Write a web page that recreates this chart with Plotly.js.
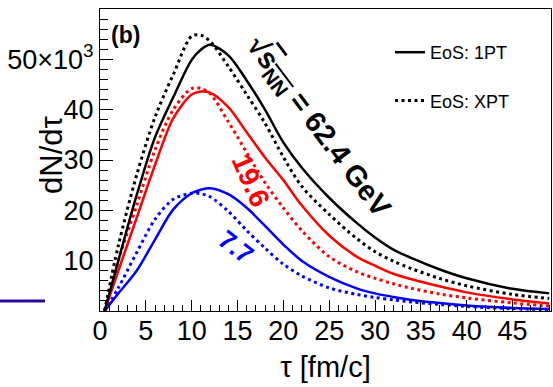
<!DOCTYPE html>
<html>
<head>
<meta charset="utf-8">
<script src="https://cdn.plot.ly/plotly-3.0.1.min.js"></script>
<style>html,body{margin:0;padding:0;background:#fff;}#chart{width:553px;height:387px;}</style>
</head>
<body>
<div id="chart"></div>
<script>
// ---- data (tau in fm/c, dN/dtau in units of 10^3) ----
const tau = [0.5, 2, 4, 6, 8, 10, 11, 12, 14, 16, 18, 20, 22, 25, 28, 30, 32, 34, 37, 40, 45, 49];
const black1PT = [0, 10, 23, 34.5, 42.5, 49.9, 51.9, 52.9, 50.8, 45.8, 40, 33.5, 28.5, 22.5, 17.5, 14.6, 12.2, 10.5, 8.3, 6.5, 4.4, 3.5];
const blackXPT = [0, 13, 27, 38.5, 47, 54.6, 54.8, 53.6, 48.6, 43, 37.3, 30.6, 24.8, 19.2, 14.4, 11.8, 9.9, 8.4, 6.5, 5.0, 3.3, 2.5];
const red1PT   = [0, 8, 18.5, 29, 38.3, 43, 43.6, 43.4, 40.5, 35.5, 30.5, 26, 21, 15, 10.8, 9.0, 7.4, 6.3, 4.9, 3.7, 2.3, 1.5];
const redXPT   = [0, 10, 21, 32, 40, 44.2, 44.2, 43.2, 37.6, 31.5, 25.5, 20.5, 16, 10.8, 7.8, 6.5, 5.4, 4.5, 3.4, 2.6, 1.6, 1.0];
const blue1PT  = [0, 3.5, 8, 14.2, 20.2, 23.4, 24.1, 24.4, 23.2, 20.5, 16.9, 13.2, 10, 6.8, 4.5, 3.5, 2.8, 2.2, 1.6, 1.1, 0.6, 0.4];
const blueXPT  = [0, 4.6, 11.6, 18.2, 22.2, 23.4, 23.3, 22.7, 19.8, 16, 12.5, 9.3, 7, 4.6, 3.3, 2.7, 2.2, 1.8, 1.3, 0.9, 0.45, 0.3];
const legendNames = ['EoS: 1PT', 'EoS: XPT'];
const energyLabels = ['√<span style="text-decoration:overline">s<sub>NN</sub></span> = 62.4 GeV', '19.6', '7.7'];
const xTickVals = [0, 5, 10, 15, 20, 25, 30, 35, 40, 45];
const yTickVals = [10, 20, 30, 40, 50];
const yTickText = ['10', '20', '30', '40', '50×10<sup>3</sup>'];

// ---- style ----
const SANS = '"Liberation Sans", Arial, Helvetica, sans-serif';
const DOT = '3px,3.5px';
const L = 100, R = 2, T = 9, B = 76, W = 553, H = 387;
const pw = W - L - R, ph = H - T - B;
const px = v => (v - L) / pw;
const py = v => (H - B - v) / ph;

function tr(y, color, dash, name, show, group) {
  return {x: tau, y: y, type: 'scatter', mode: 'lines', name: name || '', showlegend: !!show,
    legendgroup: group || undefined,
    line: {color: color, width: dash ? 3 : 2.5, dash: dash ? DOT : 'solid', shape: 'spline', smoothing: 0.9},
    hoverinfo: 'skip'};
}

const data = [
  tr(blue1PT, '#0000ff', false),
  tr(blueXPT, '#0000ff', true),
  tr(red1PT, '#ff0000', false),
  tr(redXPT, '#ff0000', true),
  tr(black1PT, '#000000', false, legendNames[0], true, 'g1'),
  tr(blackXPT, '#000000', true, legendNames[1], true, 'g2'),
];

const layout = {
  width: W, height: H,
  margin: {l: L, r: R, t: T, b: B, pad: 0},
  paper_bgcolor: '#ffffff', plot_bgcolor: '#ffffff',
  showlegend: true,
  legend: {x: px(390), y: py(34), xanchor: 'left', yanchor: 'top', bgcolor: 'rgba(0,0,0,0)',
    font: {family: SANS, size: 18, color: '#000'}, tracegroupgap: 22, traceorder: 'grouped',
    itemwidth: 30},
  xaxis: {range: [0, 49.2], tickmode: 'array', tickvals: xTickVals, ticks: 'inside', ticklen: 11,
    tickwidth: 1, tickcolor: '#000', showline: true, linecolor: '#000', linewidth: 1, mirror: true,
    showgrid: false, zeroline: false, tickfont: {family: SANS, size: 27, color: '#000'},
    ticklabelstandoff: -4,
    minor: {tickmode: 'linear', tick0: 0, dtick: 1, ticks: 'inside', ticklen: 6, tickcolor: '#000', showgrid: false},
    title: {text: 'τ [fm/c]', font: {family: SANS, size: 29, color: '#000'}, standoff: 11},
    automargin: false},
  yaxis: {range: [0, 60], tickmode: 'array', tickvals: yTickVals, ticktext: yTickText, ticks: 'inside', ticklen: 13,
    tickwidth: 1, tickcolor: '#000', showline: true, linecolor: '#000', linewidth: 1, mirror: true,
    showgrid: false, zeroline: false, tickfont: {family: SANS, size: 27, color: '#000'},
    minor: {tickmode: 'linear', tick0: 0, dtick: 2, ticks: 'inside', ticklen: 8, tickcolor: '#000', showgrid: false},
    automargin: false},
  shapes: [
    {type: 'line', xref: 'paper', yref: 'paper', x0: px(0), x1: px(45), y0: py(301), y1: py(301),
      line: {color: '#2a0a9e', width: 3}}
  ],
  annotations: [
    {text: 'dN/dτ', xref: 'paper', yref: 'paper', x: px(51), y: py(155), xanchor: 'center', yanchor: 'middle',
      textangle: -90, showarrow: false, font: {family: SANS, size: 31, color: '#000'}},
    {text: '<b>(b)</b>', xref: 'paper', yref: 'paper', x: px(125), y: py(35), xanchor: 'center', yanchor: 'middle',
      showarrow: false, font: {family: SANS, size: 23, color: '#000'}},
    {text: '<b>' + energyLabels[0] + '</b>', xref: 'paper', yref: 'paper', x: px(318), y: py(128),
      xanchor: 'center', yanchor: 'middle', textangle: 53, showarrow: false,
      font: {family: SANS, size: 29, color: '#000'}},
    {text: '<b>' + energyLabels[1] + '</b>', xref: 'paper', yref: 'paper', x: px(251), y: py(180),
      xanchor: 'center', yanchor: 'middle', textangle: 66, showarrow: false,
      font: {family: SANS, size: 28, color: '#ff0000'}},
    {text: '<b>' + energyLabels[2] + '</b>', xref: 'paper', yref: 'paper', x: px(236), y: py(247),
      xanchor: 'center', yanchor: 'middle', textangle: 38, showarrow: false,
      font: {family: SANS, size: 26, color: '#0000ff'}}
  ]
};

Plotly.newPlot('chart', data, layout, {staticPlot: true, displayModeBar: false});
</script>
</body>
</html>
